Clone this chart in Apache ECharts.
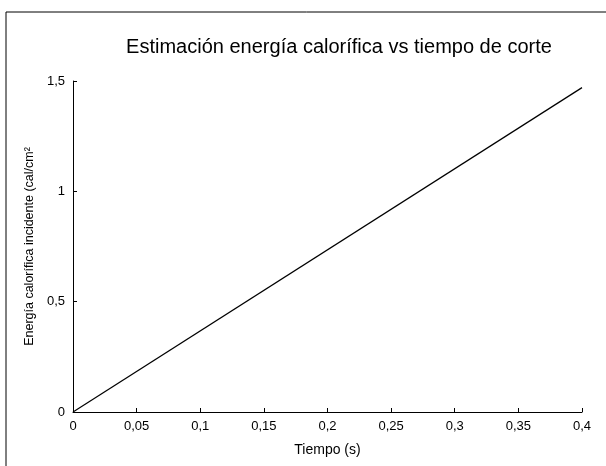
<!DOCTYPE html>
<html>
<head>
<meta charset="utf-8">
<script src="https://cdn.jsdelivr.net/npm/echarts@6/dist/echarts.min.js"></script>
<style>
  html, body { margin: 0; padding: 0; background: #fff; }
  #chart { width: 606px; height: 466px; }
</style>
</head>
<body>
<div id="chart"></div>
<script>
// datos
var tiempo = [0, 0.4];          // s
var energia = [0, 1.47];        // cal/cm2
var xTicks = [0, 0.05, 0.1, 0.15, 0.2, 0.25, 0.3, 0.35, 0.4];
var yTicks = [0, 0.5, 1, 1.5];

var chart = echarts.init(document.getElementById('chart'));
var font = 'Liberation Sans, Arial, Helvetica, sans-serif';

function coma(v) {
  return String(v).replace('.', ',');
}

chart.setOption({
  animation: false,
  backgroundColor: '#fff',
  graphic: [{
    type: 'rect',
    shape: { x: 6, y: 12, width: 640, height: 500 },
    style: { fill: 'none', stroke: '#000', lineWidth: 1 },
    silent: true
  }],
  title: {
    text: 'Estimación energía calorífica vs tiempo de corte',
    left: 334,
    top: 32,
    textAlign: 'center',
    textStyle: { fontFamily: font, fontSize: 20, fontWeight: 'normal', color: '#000' }
  },
  grid: {
    left: 73,
    right: 24,
    top: 81,
    bottom: 54,
    containLabel: false
  },
  xAxis: {
    type: 'value',
    min: xTicks[0],
    max: xTicks[xTicks.length - 1],
    interval: 0.05,
    name: 'Tiempo (s)',
    nameLocation: 'middle',
    nameGap: 31,
    nameTextStyle: { fontFamily: font, fontSize: 14, color: '#000' },
    axisLine: { show: true, lineStyle: { color: '#000', width: 1 } },
    axisTick: { show: true, inside: true, length: 4, lineStyle: { color: '#000' } },
    axisLabel: {
      fontFamily: font, fontSize: 13, color: '#000', margin: 8,
      formatter: function (v) { return coma(v); }
    },
    splitLine: { show: false }
  },
  yAxis: {
    type: 'value',
    min: yTicks[0],
    max: yTicks[yTicks.length - 1],
    interval: 0.5,
    name: 'Energía calorífica incidente (cal/cm²',
    nameLocation: 'middle',
    nameGap: 33,
    nameTextStyle: { fontFamily: font, fontSize: 12.5, color: '#000' },
    axisLine: { show: true, lineStyle: { color: '#000', width: 1 } },
    axisTick: { show: true, inside: true, length: 4, lineStyle: { color: '#000' } },
    axisLabel: {
      fontFamily: font, fontSize: 13, color: '#000', margin: 8,
      formatter: function (v) { return coma(v); }
    },
    splitLine: { show: false }
  },
  series: [{
    type: 'line',
    data: tiempo.map(function (t, i) { return [t, energia[i]]; }),
    showSymbol: false,
    lineStyle: { color: '#000', width: 1.2 },
    itemStyle: { color: '#000' }
  }]
});
</script>
</body>
</html>
